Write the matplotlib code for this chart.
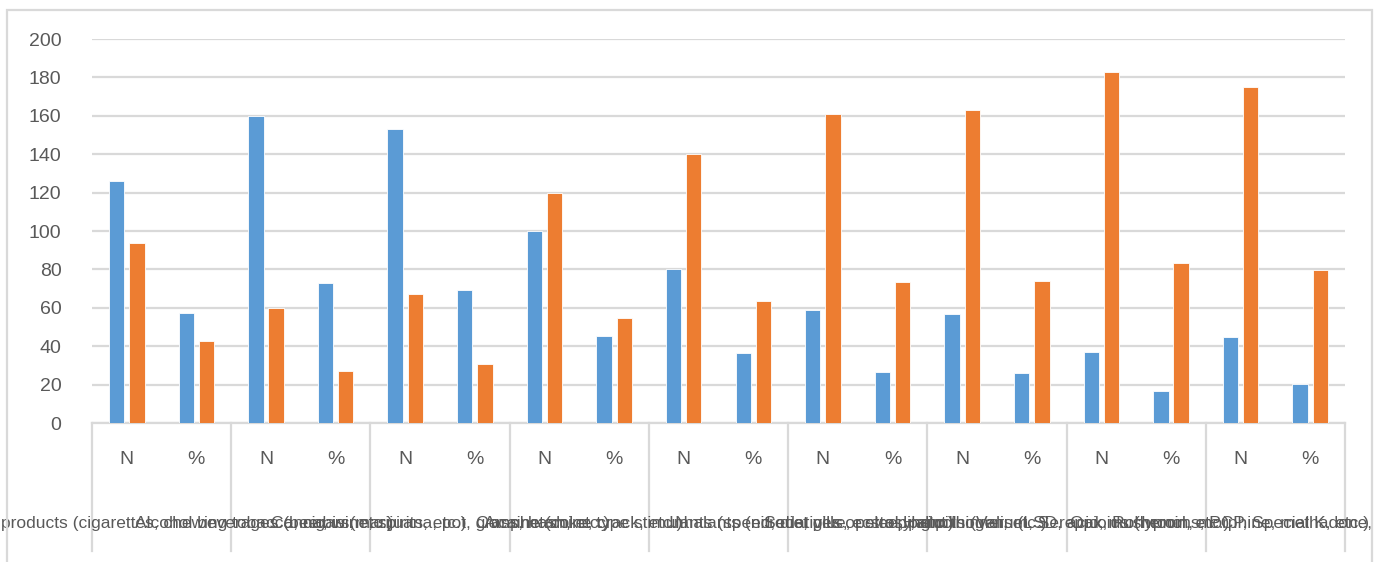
import matplotlib
matplotlib.use('Agg')
import matplotlib.pyplot as plt
import matplotlib.transforms as mtransforms
from matplotlib.patches import Rectangle
import numpy as np

# 数据
groups = [
    "Tobacco products (cigarettes, chewing tobacco, cigars, etc.)",
    "Alcohol beverages (beer, wine, spirits, etc.)",
    "Cannabis (marijuana, pot, grass, hash, etc.)",
    "Cocaine (coke, crack, etc.)",
    "Amphetamine type stimulants (speed, diet pills, ecstasy, etc.)",
    "Inhalants (nitrous, glue, petrol, paint thinner, etc.)",
    "Sedatives or sleeping pills (Valium, Serepax, Rohypnol, etc.)",
    "Hallucinogens (LSD, acid, mushrooms, PCP, Special K, etc.)",
    "Opioids (heroin, morphine, methadone, codeine, etc.)",
]
sub_labels = ["N", "%"]

blue_n = [126, 160, 153, 100, 80, 59, 57, 37, 45]
orange_n = [94, 60, 67, 120, 140, 161, 163, 183, 175]
blue_pct = [57.3, 72.7, 69.5, 45.5, 36.4, 26.8, 25.9, 16.8, 20.5]
orange_pct = [42.7, 27.3, 30.5, 54.5, 63.6, 73.2, 74.1, 83.2, 79.5]

yticks = [0, 20, 40, 60, 80, 100, 120, 140, 160, 180, 200]

BLUE = '#5B9BD5'
ORANGE = '#ED7D31'
GRID = '#D9D9D9'
TEXT = '#595959'

plt.rcParams['font.family'] = ['Liberation Sans', 'DejaVu Sans']

# 交错排列 N / % 两个子类
blue_vals = []
orange_vals = []
for i in range(len(groups)):
    blue_vals += [blue_n[i], blue_pct[i]]
    orange_vals += [orange_n[i], orange_pct[i]]

x = np.arange(len(blue_vals))

fig = plt.figure(figsize=(13.77, 5.62), dpi=100)
ax = fig.add_axes([92 / 1377, 139 / 562, 1253 / 1377, 384 / 562])

bw = 0.22
ax.bar(x - 0.145, blue_vals, width=bw, color=BLUE, edgecolor='white', linewidth=0.6, zorder=3)
ax.bar(x + 0.145, orange_vals, width=bw, color=ORANGE, edgecolor='white', linewidth=0.6, zorder=3)

ax.set_xlim(-0.5, len(x) - 0.5)
ax.set_ylim(0, 200)
ax.set_yticks(yticks)
ax.tick_params(axis='y', length=0, pad=22, labelsize=14, labelcolor=TEXT)
ax.set_xticks([])
ax.grid(True, axis='y', color=GRID, linewidth=1.6, zorder=0)
for s in ['top', 'right', 'left']:
    ax.spines[s].set_visible(False)
ax.spines['bottom'].set_color(GRID)
ax.spines['bottom'].set_linewidth(1.6)

# 多层类别轴
trans = mtransforms.blended_transform_factory(ax.transData, ax.transAxes)
for k in range(len(groups) + 1):
    xs = 2 * k - 0.5
    ax.plot([xs, xs], [0, -0.333], transform=trans, color=GRID, linewidth=1.6, clip_on=False)
for i in range(len(x)):
    ax.text(x[i], -0.096, sub_labels[i % 2], transform=trans, ha='center', va='center',
            fontsize=14, color=TEXT)
for g, name in enumerate(groups):
    ax.text(2 * g + 0.5, -0.262, name, transform=trans, ha='center', va='center',
            fontsize=12.5, color=TEXT)

# 图表外框
fig.patches.append(Rectangle((7 / 1377, -0.05), 1365 / 1377, 1.0 - 10 / 562 + 0.05,
                             transform=fig.transFigure, fill=False,
                             edgecolor=GRID, linewidth=1.6))

plt.savefig('out.png', dpi=100)
plt.close()
